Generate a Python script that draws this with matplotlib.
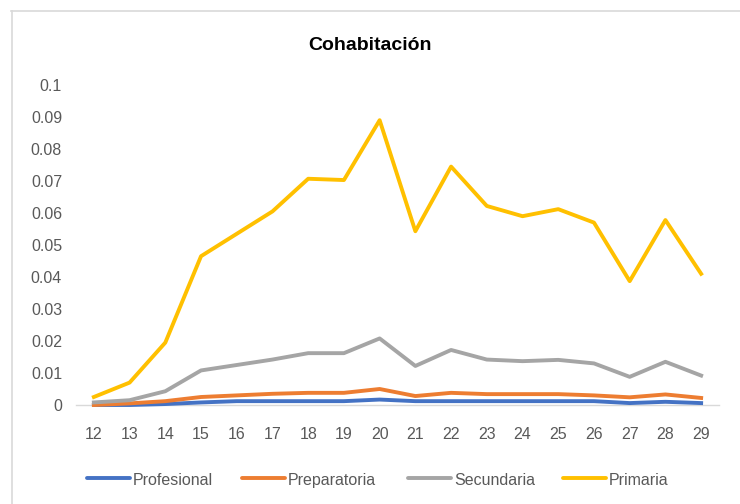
import matplotlib
matplotlib.use("Agg")
import matplotlib.pyplot as plt
from matplotlib.lines import Line2D

plt.rcParams['font.family'] = ['Liberation Sans', 'DejaVu Sans']

# edades
ages = [12, 13, 14, 15, 16, 17, 18, 19, 20, 21, 22, 23, 24, 25, 26, 27, 28, 29]

profesional = [0.0, 0.0, 0.0003, 0.0008, 0.0012, 0.0012, 0.0012, 0.0012, 0.0017,
               0.0012, 0.0012, 0.0012, 0.0012, 0.0012, 0.0012, 0.0006, 0.001, 0.0006]
preparatoria = [0.0, 0.0005, 0.0012, 0.0025, 0.003, 0.0035, 0.0038, 0.0038, 0.005,
                0.0028, 0.0038, 0.0034, 0.0034, 0.0034, 0.003, 0.0024, 0.0033, 0.0022]
secundaria = [0.0008, 0.0015, 0.0043, 0.0108, 0.0125, 0.0142, 0.0162, 0.0162, 0.0208,
              0.0122, 0.0172, 0.0142, 0.0137, 0.0141, 0.013, 0.0088, 0.0135, 0.0092]
primaria = [0.0025, 0.007, 0.0195, 0.0465, 0.0535, 0.0605, 0.0707, 0.0703, 0.089,
            0.0543, 0.0745, 0.0622, 0.059, 0.0612, 0.057, 0.0387, 0.0578, 0.041]

series = [("Profesional", profesional, "#4472C4"),
          ("Preparatoria", preparatoria, "#ED7D31"),
          ("Secundaria", secundaria, "#A5A5A5"),
          ("Primaria", primaria, "#FFC000")]

yticks = [0, 0.01, 0.02, 0.03, 0.04, 0.05, 0.06, 0.07, 0.08, 0.09, 0.1]
ylabels = ["0", "0.01", "0.02", "0.03", "0.04", "0.05", "0.06", "0.07", "0.08", "0.09", "0.1"]

W, H = 740, 504
fig = plt.figure(figsize=(7.4, 5.04), dpi=100)
ax = fig.add_axes([76 / W, 1 - 405 / H, (719 - 76) / W, (405 - 85) / H])

x = list(range(len(ages)))
for name, vals, col in series:
    ax.plot(x, vals, color=col, lw=2.8, label=name, clip_on=False, solid_joinstyle='round')

ax.set_xlim(-0.5, len(ages) - 0.5)
ax.set_ylim(0, 0.1)
ax.set_xticks(x)
ax.set_xticklabels([str(a) for a in ages])
ax.set_yticks(yticks)
ax.set_yticklabels(ylabels)
ax.tick_params(length=0, labelsize=11.5, colors="#595959")
ax.tick_params(axis='x', pad=16)
ax.tick_params(axis='y', pad=10)
for s in ["top", "right", "left"]:
    ax.spines[s].set_visible(False)
ax.spines["bottom"].set_color("#D9D9D9")
ax.spines["bottom"].set_linewidth(1)
ax.spines["bottom"].set_zorder(0)

fig.text(0.5, 1 - 45 / H, "Cohabitación", ha="center", va="center",
         fontsize=14, fontweight="bold", color="#000000")

# leyenda hecha a mano (misma línea base para todos los textos)
leg_x = [87, 242, 408, 563]
leg_y = 1 - 478 / H
for (name, vals, col), lx in zip(series, leg_x):
    fig.add_artist(Line2D([lx / W, (lx + 43) / W], [leg_y, leg_y], color=col, lw=2.8,
                          solid_capstyle='round'))
    fig.text((lx + 46) / W, leg_y - 1 / H, name, ha="left", va="center_baseline",
             fontsize=11.5, color="#595959")

# marco del gráfico (solo arriba e izquierda visibles)
fig.add_artist(Line2D([11 / W, 1], [1 - 10.5 / H, 1 - 10.5 / H], color="#D9D9D9", lw=1.2))
fig.add_artist(Line2D([11.5 / W, 11.5 / W], [0, 1 - 10.5 / H], color="#D9D9D9", lw=1.2))

fig.savefig("out.png", dpi=100)
